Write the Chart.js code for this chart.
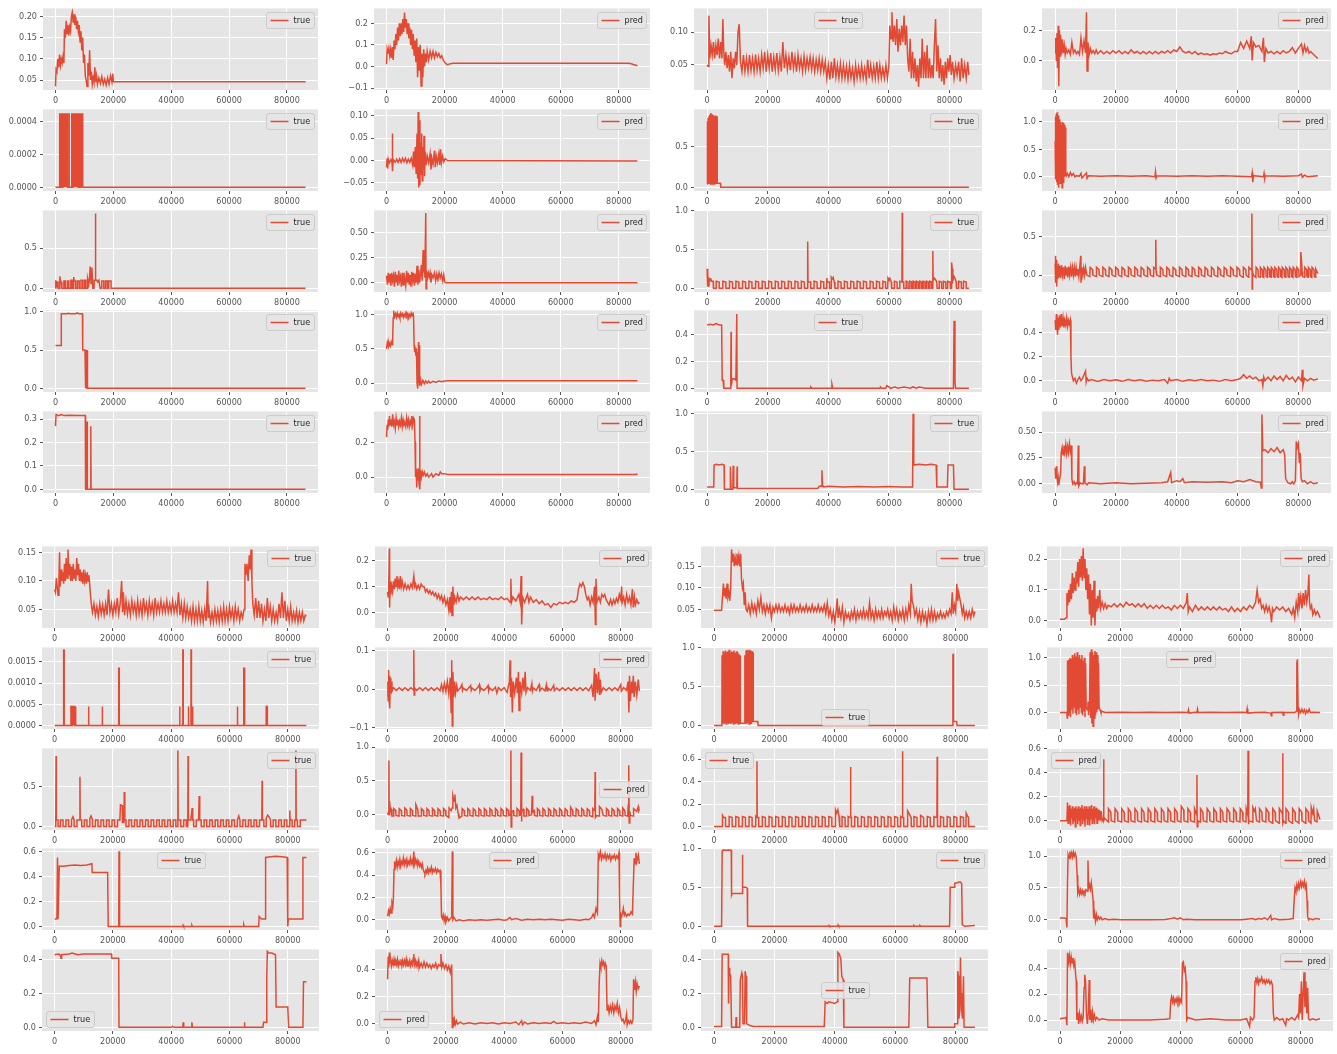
<!DOCTYPE html>
<html>
<head>
<meta charset="utf-8">
<title>true / pred</title>
<script src="https://cdn.jsdelivr.net/npm/chart.js@4.4.1/dist/chart.umd.min.js"></script>
<style>
  html, body { margin: 0; padding: 0; background: #ffffff; }
  #board { position: relative; width: 1337px; height: 1054px; overflow: hidden; }
</style>
</head>
<body>
<div id="board"></div>
<script>
// x values in the series are in thousands of samples
const X_SCALE = 1000;
const X_TICKS = [0, 20000, 40000, 60000, 80000];

// ---- block 1 ----
const s01_true = [[0,.035],[0.2,.075],[0.5,.07],[0.8,.10],[1.1,.08],[1.4,.11],[1.7,.085],[2.0,.10],[2.3,.09],[2.6,.105],[2.9,.09],[3.1,.17],[3.4,.15],[3.7,.19],[4.0,.16],[4.3,.18],[4.6,.155],[4.9,.175],[5.2,.165],[5.5,.2],[5.8,.21],[6.1,.185],[6.4,.205],[6.7,.18],[7.0,.2],[7.3,.17],[7.6,.19],[7.9,.165],[8.2,.18],[8.5,.14],[8.8,.165],[9.1,.12],[9.4,.15],[9.7,.09],[10.0,.11],[10.3,.06],[10.6,.05],[10.9,.035],[11.2,.09],[11.5,.06],[11.8,.12],[12.1,.05],[12.4,.07],[12.7,.04],[13.0,.055],[13.3,.045],[13.6,.08],[13.9,.045],[14.2,.06],[14.5,.04],[15,.055],[15.5,.042],[16,.058],[16.5,.04],[17,.052],[17.5,.038],[18,.055],[18.5,.04],[19,.06],[19.5,.045],[19.8,.065],[20,.046],[86.4,.046]];
const s02_pred = [[0,.01],[0.2,.08],[0.5,.06],[0.8,.085],[1.1,.05],[1.4,.08],[1.7,.04],[2.0,.09],[2.3,.03],[2.6,.12],[2.9,.08],[3.2,.15],[3.5,.1],[3.8,.18],[4.1,.12],[4.4,.2],[4.7,.14],[5.0,.2],[5.3,.15],[5.6,.22],[5.9,.16],[6.2,.25],[6.5,.18],[6.8,.22],[7.1,.15],[7.4,.2],[7.7,.13],[8.0,.18],[8.3,.1],[8.6,.17],[8.9,.08],[9.2,.15],[9.5,.05],[9.8,.12],[10.1,.02],[10.4,.13],[10.7,-.05],[11.0,.09],[11.3,-.02],[11.6,.1],[11.9,-.09],[12.2,.06],[12.5,-.05],[12.8,.08],[13.1,.0],[13.4,.06],[13.7,.02],[14,.07],[14.5,.03],[15,.07],[15.5,.04],[16,.07],[16.5,.04],[17,.065],[17.5,.045],[18,.06],[18.5,.04],[19,.05],[19.5,.03],[20,.02],[20.5,.012],[21,.008],[22,.013],[23,.015],[83,.015],[84,.014],[85,.009],[86.4,.003]];
const s03_true = [[0,.05],[0.3,.048],[0.6,.125],[0.9,.06],[1.3,.08],[1.7,.065],[2.1,.085],[2.5,.06],[2.9,.08],[3.3,.065],[3.7,.09],[4.1,.06],[4.5,.085],[4.9,.06],[5.2,.12],[5.5,.07],[5.8,.05],[6.2,.07],[6.6,.045],[7.0,.065],[7.4,.04],[7.8,.07],[8.2,.03],[8.6,.06],[9.0,.045],[9.4,.07],[9.8,.05],[10.2,.1],[10.6,.112],[11,.055],[11.5,.04],[12,.065],[12.5,.04],[13,.06],[13.5,.04],[14,.065],[14.5,.042],[15,.06],[15.5,.04],[16,.066],[16.5,.042],[17,.06],[17.5,.04],[18,.065],[18.5,.045],[19,.07],[19.5,.04],[20,.065],[20.5,.045],[21,.068],[21.5,.04],[22,.062],[22.5,.043],[23,.068],[23.5,.042],[24,.062],[24.5,.04],[25,.085],[25.5,.045],[26,.065],[26.5,.043],[27,.062],[27.5,.042],[28,.07],[28.5,.045],[29,.062],[29.5,.04],[30,.065],[30.5,.045],[31,.06],[31.5,.04],[32,.063],[32.5,.042],[33,.06],[33.5,.045],[34,.062],[34.5,.043],[35,.06],[35.5,.04],[36,.058],[36.5,.042],[37,.06],[37.5,.04],[38,.058],[38.5,.04],[39,.055],[39.5,.03],[40,.05],[40.5,.028],[41,.055],[41.5,.03],[42,.06],[42.5,.032],[43,.05],[43.5,.03],[44,.052],[44.5,.03],[45,.05],[45.5,.03],[46,.048],[46.5,.028],[47,.05],[47.5,.03],[48,.045],[48.5,.025],[49,.05],[49.5,.03],[50,.047],[50.5,.03],[51,.05],[51.5,.03],[52,.045],[52.5,.028],[53,.058],[53.5,.03],[54,.05],[54.5,.03],[55,.048],[55.5,.03],[56,.055],[56.5,.03],[57,.05],[57.5,.03],[58,.045],[58.5,.03],[59,.05],[59.5,.03],[60,.05],[60.3,.11],[60.7,.09],[61,.13],[61.4,.085],[61.8,.11],[62.2,.08],[62.6,.12],[63,.07],[63.4,.105],[63.8,.08],[64.2,.11],[64.6,.085],[65,.125],[65.4,.08],[65.8,.11],[66.2,.06],[66.6,.04],[67,.09],[67.4,.03],[67.8,.07],[68.2,.03],[68.6,.06],[69,.025],[69.4,.05],[69.8,.017],[70.2,.06],[70.6,.03],[71,.09],[71.4,.03],[71.8,.07],[72.2,.03],[72.6,.08],[73,.03],[73.4,.06],[73.8,.03],[74.2,.05],[74.6,.03],[75,.08],[75.4,.12],[75.8,.04],[76.2,.08],[76.6,.03],[77,.06],[77.4,.025],[77.8,.05],[78.2,.02],[78.6,.055],[79,.03],[79.4,.06],[79.8,.04],[80.2,.065],[80.6,.035],[81,.055],[81.5,.03],[82,.05],[82.5,.035],[83,.055],[83.5,.025],[84,.06],[84.5,.03],[85,.05],[85.5,.03],[86,.055],[86.4,.035]];
const s04_pred = [[0,.05],[0.2,.15],[0.4,.0],[0.6,.18],[0.8,-.05],[1.0,.23],[1.2,-.17],[1.4,.2],[1.6,.03],[1.8,.17],[2.1,.04],[2.4,.14],[2.7,.05],[3.0,.1],[3.3,.04],[3.6,.08],[4,.05],[4.5,.07],[5,.04],[5.5,.12],[6,.05],[6.5,.07],[7,.045],[7.5,.06],[8,.04],[8.5,.15],[9,.06],[9.5,.13],[10,.05],[10.3,.32],[10.5,-.07],[10.8,.12],[11.2,.04],[11.6,.08],[12,.05],[12.5,.065],[13,.045],[13.5,.07],[14,.045],[15,.065],[16,.045],[17,.06],[18,.045],[19,.065],[20,.05],[21,.065],[22,.045],[23,.06],[24,.045],[25,.07],[26,.05],[27,.06],[28,.045],[29,.06],[30,.045],[31,.06],[32,.045],[33,.06],[34,.045],[35,.06],[36,.05],[37,.065],[38,.05],[39,.07],[40,.06],[41,.09],[42,.06],[43,.05],[44,.06],[45,.045],[46,.06],[47,.04],[48,.05],[49,.04],[50,.045],[51,.035],[52,.045],[53,.04],[54,.05],[55,.045],[56,.06],[57,.05],[58,.045],[59,.06],[60,.06],[61,.12],[62,.08],[63,.13],[64,.08],[64.5,.16],[64.8,.0],[65.2,.12],[66,.09],[67,.1],[68,.06],[68.5,.15],[68.8,-.01],[69.3,.08],[70,.05],[71,.06],[72,.045],[73,.06],[74,.045],[75,.065],[76,.05],[77,.06],[78,.085],[79,.05],[80,.08],[81,.11],[81.5,.05],[82,.1],[82.5,.06],[83,.085],[83.5,.05],[84,.06],[85,.04],[86,.02],[86.4,.015]];

const s05_true = [[0,0],[1.3,0],[1.35,4.5e-4],[1.55,0],[1.75,4.5e-4],[1.95,0],[2.15,4.5e-4],[2.35,0],[2.55,4.5e-4],[2.75,0],[2.95,4.5e-4],[3.15,0],[3.35,4.5e-4],[3.55,0],[3.75,4.5e-4],[3.95,0],[4.15,4.5e-4],[4.2,0],[4.7,0],[4.72,4.5e-4],[4.75,0],[5.6,0],[5.62,4.5e-4],[5.8,0],[6.0,4.5e-4],[6.2,0],[6.4,4.5e-4],[6.6,0],[6.8,4.5e-4],[7.0,0],[7.2,4.5e-4],[7.4,0],[7.6,4.5e-4],[7.8,0],[8.0,4.5e-4],[8.2,0],[8.4,4.5e-4],[8.6,0],[8.8,4.5e-4],[9.0,0],[9.2,4.5e-4],[9.4,0],[86.4,0]];
const s06_pred = [[0,-.015],[0.2,.005],[0.4,-.018],[0.6,.003],[1,-.005],[1.5,.002],[1.9,-.005],[2.0,.06],[2.1,-.024],[2.3,.002],[3,-.004],[3.5,.003],[4,-.004],[4.5,.004],[5,-.004],[5.5,.005],[6,-.003],[6.5,.005],[7,-.005],[7.5,.003],[8,-.004],[8.5,.005],[9,-.01],[9.3,.02],[9.6,-.015],[9.9,.03],[10.2,-.03],[10.5,.06],[10.7,-.04],[10.9,.108],[11.1,-.06],[11.3,.09],[11.5,-.055],[11.7,.04],[11.9,-.03],[12.1,.06],[12.3,-.045],[12.5,.03],[12.7,-.02],[12.9,.055],[13.1,-.035],[13.3,.02],[13.6,-.01],[14,.01],[14.5,-.005],[15,.015],[15.3,-.02],[15.6,.005],[16,-.008],[16.5,.022],[16.8,-.015],[17.1,.01],[17.5,-.005],[18,.015],[18.3,-.01],[18.6,.025],[18.9,-.005],[19.3,.01],[19.7,-.003],[20.2,.004],[21,.0],[86.4,-.001]];
const s07_true = [[0,.04],[0.05,.82],[0.2,.04],[0.35,.86],[0.5,.04],[0.65,.88],[0.8,.04],[0.95,.9],[1.1,.04],[1.25,.92],[1.4,.04],[1.55,.91],[1.7,.04],[1.85,.9],[2.0,.04],[2.15,.89],[2.3,.04],[2.45,.88],[2.6,.04],[2.75,.89],[2.9,.04],[3.05,.88],[3.2,.04],[3.3,.88],[3.35,.05],[4.4,.05],[4.5,0],[86.4,0]];
const s08_pred = [[0,.65],[0.1,1.1],[0.2,-.05],[0.35,1.15],[0.5,-.1],[0.65,1.18],[0.8,-.15],[0.95,1.12],[1.1,-.2],[1.25,1.1],[1.4,-.05],[1.55,1.05],[1.7,-.12],[1.85,1.0],[2.0,-.08],[2.15,.95],[2.3,-.2],[2.45,1.0],[2.6,-.1],[2.75,.98],[2.9,-.05],[3.05,.95],[3.2,.0],[3.35,.9],[3.5,.05],[3.7,.02],[4,.06],[4.5,.0],[5,.08],[5.5,.02],[6,.06],[6.5,.0],[7,.02],[8,.01],[8.5,.06],[8.8,-.02],[9.5,.02],[10.3,.07],[10.5,-.03],[11,.02],[15,.01],[20,.02],[25,.01],[30,.02],[32.8,.0],[33,.09],[33.2,-.02],[33.5,.02],[40,.01],[45,.02],[50,.01],[55,.02],[60,.01],[64.6,.0],[64.8,.07],[65,-.1],[65.2,.02],[68.5,.0],[68.7,.06],[68.9,-.03],[69.1,.02],[75,.01],[80,.02],[81,.05],[81.3,-.01],[82,.03],[83,.0],[86.4,.02]];

const s09_true = [[0,0],[0.1,.1],[0.3,.02],[0.5,.08],[0.9,.08],[0.9,0],[1.5,0],[1.5,.15],[1.7,.1],[2.0,.08],[2.2,0],[2.9,0],[2.9,.09],[3.4,.09],[3.4,0],[4.1,0],[4.1,.09],[4.6,.09],[4.6,0],[5.3,0],[5.3,.1],[5.8,.1],[5.8,0],[6.3,0],[6.3,.14],[6.5,.09],[7.0,.09],[7.0,0],[7.6,0],[7.6,.09],[8.2,.09],[8.2,0],[8.8,0],[8.8,.1],[9.4,.1],[9.4,0],[10,0],[10,.1],[10.5,.1],[10.5,0],[11.1,0],[11.1,.12],[11.5,.05],[11.7,.1],[12.0,.27],[12.3,.06],[12.6,.26],[12.9,.0],[13.3,0],[13.4,.1],[13.7,.1],[13.8,.93],[13.9,.1],[14.3,.1],[14.6,.08],[15,.1],[15.4,0],[16,0],[16,.09],[16.7,.09],[16.7,0],[17.3,0],[17.3,.09],[17.9,.09],[17.9,0],[18.4,0],[18.4,.09],[19.2,.09],[19.2,0],[86.4,0]];
const s10_pred = [[0,.07],[0.3,-.02],[0.6,.1],[0.9,.0],[1.2,.09],[1.5,-.03],[1.8,.1],[2.1,.02],[2.4,.07],[2.7,-.04],[3.0,.11],[3.3,.0],[3.6,.08],[3.9,-.03],[4.2,.12],[4.5,.02],[4.8,.06],[5.1,-.04],[5.4,.1],[5.7,-.02],[6.0,.1],[6.3,.03],[6.6,-.03],[6.9,.12],[7.2,.0],[7.5,.1],[7.8,-.02],[8.1,.08],[8.4,-.04],[8.7,.11],[9.0,.02],[9.3,.1],[9.6,-.03],[9.9,.09],[10.2,.0],[10.5,.17],[10.8,-.02],[11.1,.13],[11.4,.0],[11.7,.08],[12.0,.18],[12.3,.02],[12.6,.33],[12.8,.1],[13.0,.3],[13.2,.05],[13.5,.7],[13.6,-.06],[13.8,.12],[14.1,.05],[14.4,.1],[14.7,.06],[15,.1],[15.3,.0],[15.6,.08],[16,.05],[16.5,.1],[16.9,.02],[17.3,.09],[17.7,.03],[18.1,.1],[18.5,.05],[18.9,.09],[19.3,.02],[19.7,.08],[20,.01],[20.5,.0],[86.4,.0]];
const s11_true = [[0,.25],[0.2,.03],[0.6,.03],[0.7,.12],[1.0,.1],[1.2,.13],[1.4,.09],[2.0,.09],[2.1,0],[3.0,0],[3.0,.09],[4.0,.08],[4.0,0],[5.2,0],[5.2,.09],[6.2,.08],[6.2,0],[7.4,0],[7.4,.09],[8.4,.08],[8.4,0],[9.5,0],[9.5,.09],[10.5,.08],[10.5,0],[11.7,0],[11.7,.09],[12.7,.08],[12.7,0],[13.8,0],[13.8,.09],[14.8,.08],[14.8,0],[16.0,0],[16.0,.09],[17.0,.08],[17.0,0],[18.2,0],[18.2,.09],[19.2,.08],[19.2,0],[20.3,0],[20.3,.09],[21.3,.08],[21.3,0],[22.5,0],[22.5,.09],[23.5,.08],[23.5,0],[24.6,0],[24.6,.09],[25.6,.08],[25.6,0],[26.8,0],[26.8,.09],[27.8,.08],[27.8,0],[29.0,0],[29.0,.09],[30.0,.08],[30.0,0],[31.1,0],[31.1,.09],[32.1,.08],[32.1,0],[33.1,0],[33.2,.6],[33.3,.08],[34.2,.08],[34.2,0],[35.3,0],[35.3,.09],[36.3,.08],[36.3,0],[37.5,0],[37.5,.09],[38.5,.08],[38.5,0],[39.4,0],[39.5,.13],[39.7,.08],[40.4,.08],[40.4,0],[40.9,0],[41.0,.14],[41.3,.12],[41.6,.14],[42.0,.08],[42.2,0],[43.2,0],[43.2,.09],[44.2,.08],[44.2,0],[45.3,0],[45.3,.09],[46.3,.08],[46.3,0],[47.4,0],[47.4,.09],[48.4,.08],[48.4,0],[49.5,0],[49.5,.09],[50.5,.08],[50.5,0],[51.6,0],[51.6,.09],[52.6,.08],[52.6,0],[53.8,0],[53.8,.09],[54.8,.08],[54.8,0],[55.9,0],[55.9,.09],[56.9,.08],[56.9,0],[58.0,0],[58.0,.09],[58.9,.08],[58.9,0],[59.6,0],[59.7,.13],[60.0,.11],[60.3,.13],[60.8,.08],[60.9,0],[61.8,0],[61.8,.09],[62.7,.08],[62.7,0],[63.6,0],[63.6,.09],[64.3,.08],[64.4,.97],[64.5,.08],[64.9,.08],[64.9,0],[65.7,0],[65.7,.09],[66.3,.08],[66.3,0],[66.9,0],[66.9,.09],[67.5,.08],[67.5,0],[68.0,0],[68.0,.09],[68.6,.08],[68.6,0],[69.1,0],[69.1,.09],[69.7,.08],[69.7,0],[70.2,0],[70.2,.09],[70.8,.08],[70.8,0],[71.3,0],[71.3,.09],[71.9,.08],[71.9,0],[72.4,0],[72.4,.09],[73.0,.08],[73.0,0],[73.5,0],[73.5,.09],[74.1,.08],[74.1,0],[74.4,0],[74.5,.48],[74.6,.1],[75.0,.13],[75.4,.11],[75.8,.08],[75.9,0],[76.6,0],[76.6,.09],[77.4,.08],[77.4,0],[78.0,0],[78.0,.09],[78.8,.08],[78.8,0],[79.4,0],[79.4,.09],[80.2,.08],[80.3,0],[80.6,0],[80.7,.33],[80.9,.25],[81.1,.1],[81.5,.15],[81.9,.12],[82.2,.08],[82.3,0],[83.0,0],[83.0,.09],[83.9,.08],[83.9,0],[84.6,0],[84.6,.09],[85.5,.08],[85.5,0],[86.4,0]];
const s12_pred = [[0,.15],[0.1,.25],[0.2,-.1],[0.35,.2],[0.5,-.15],[0.7,.12],[0.9,-.05],[1.1,.15],[1.3,-.02],[1.5,.12],[1.8,-.04],[2.1,.13],[2.4,.0],[2.7,.1],[3.0,-.05],[3.3,.12],[3.6,.0],[3.9,.1],[4.2,-.03],[4.5,.11],[4.8,.0],[5.1,.1],[5.4,-.02],[5.7,.1],[6.0,.0],[6.3,.1],[6.6,-.02],[6.9,.1],[7.2,.0],[7.5,.08],[7.8,-.02],[8.1,.1],[8.4,.25],[8.5,-.1],[8.8,.1],[9.1,.0],[9.4,.09],[9.7,.0],[10.0,.1],[10.4,.0],[11.4,-.02],[11.5,.1],[12.3,.07],[12.4,0],[13.5,-.02],[13.6,.1],[14.4,.07],[14.5,0],[15.6,-.02],[15.7,.1],[16.5,.07],[16.6,0],[17.7,-.02],[17.8,.1],[18.6,.07],[18.7,0],[19.8,-.02],[19.9,.1],[20.7,.07],[20.8,0],[21.9,-.02],[22.0,.1],[22.8,.07],[22.9,0],[24.0,-.02],[24.1,.1],[24.9,.07],[25.0,0],[26.1,-.02],[26.2,.1],[27.0,.07],[27.1,0],[28.2,-.02],[28.3,.1],[29.1,.07],[29.2,0],[30.3,-.02],[30.4,.1],[31.2,.07],[31.3,0],[32.3,-.02],[32.4,.1],[33.0,.08],[33.1,.46],[33.2,.05],[33.4,0],[34.5,-.02],[34.6,.1],[35.4,.07],[35.5,0],[36.6,-.02],[36.7,.1],[37.5,.07],[37.6,0],[38.7,-.02],[38.8,.1],[39.6,.07],[39.7,0],[40.8,-.02],[40.9,.1],[41.7,.07],[41.8,0],[42.9,-.02],[43.0,.1],[43.8,.07],[43.9,0],[45.0,-.02],[45.1,.1],[45.9,.07],[46.0,0],[47.1,-.02],[47.2,.1],[48.0,.07],[48.1,0],[49.2,-.02],[49.3,.1],[50.1,.07],[50.2,0],[51.3,-.02],[51.4,.1],[52.2,.07],[52.3,0],[53.4,-.02],[53.5,.1],[54.3,.07],[54.4,0],[55.5,-.02],[55.6,.1],[56.4,.07],[56.5,0],[57.6,-.02],[57.7,.1],[58.5,.07],[58.6,0],[59.7,-.02],[59.8,.1],[60.6,.07],[60.7,0],[61.8,-.03],[61.9,.1],[62.7,.07],[62.8,0],[63.6,-.03],[63.7,.1],[64.5,.07],[64.7,.8],[64.8,-.18],[64.9,.05],[65.2,0],[66.0,-.03],[66.1,.1],[66.7,.07],[66.8,-.02],[67.4,-.03],[67.5,.1],[68.1,.07],[68.2,-.02],[68.6,-.03],[68.7,.1],[69.3,.07],[69.4,-.02],[69.8,-.03],[69.9,.1],[70.5,.07],[70.6,-.02],[71.0,-.03],[71.1,.1],[71.7,.07],[71.8,-.02],[72.2,-.03],[72.3,.1],[72.9,.07],[73.0,-.02],[73.4,-.03],[73.5,.1],[74.1,.07],[74.2,-.02],[74.6,-.03],[74.7,.1],[75.3,.07],[75.4,-.02],[75.8,-.03],[75.9,.1],[76.5,.07],[76.6,-.02],[77.0,-.03],[77.1,.1],[77.7,.07],[77.8,-.02],[78.2,-.03],[78.3,.1],[78.9,.07],[79.0,-.02],[79.4,-.03],[79.5,.1],[80.1,.07],[80.2,-.02],[80.7,.0],[80.8,.3],[81.0,.2],[81.2,.05],[81.4,-.02],[82.0,-.03],[82.1,.1],[82.7,.07],[82.8,-.02],[83.2,-.03],[83.3,.1],[83.9,.07],[84.0,-.02],[84.4,-.03],[84.5,.1],[85.1,.07],[85.2,-.02],[85.6,-.03],[85.7,.08],[86.4,.02]];

const s13_true = [[0,.56],[2.0,.56],[2.0,.975],[4,.975],[4.5,.98],[5,.975],[7,.975],[7.5,.985],[8,.975],[9.3,.975],[9.4,.5],[10.2,.5],[10.3,0],[10.4,.45],[10.5,0],[10.7,.5],[10.9,0],[11.0,.5],[11.1,0],[86.4,0]];
const s14_pred = [[0,.5],[0.2,.57],[0.4,.52],[0.6,.6],[0.8,.55],[1.0,.58],[1.3,.54],[1.6,.6],[1.9,.56],[2.1,.62],[2.3,.95],[2.5,1.03],[2.8,.97],[3.1,1.01],[3.4,.96],[3.7,1.02],[4,.97],[4.3,1.0],[4.6,.95],[4.9,1.02],[5.2,.98],[5.5,1.01],[5.8,.96],[6.1,1.0],[6.4,.97],[6.7,1.03],[7,.98],[7.3,1.01],[7.6,.95],[7.9,1.0],[8.2,.97],[8.5,1.02],[8.8,.98],[9.1,1.03],[9.3,.97],[9.5,.55],[9.7,.45],[9.9,.52],[10.1,.4],[10.3,.5],[10.5,.0],[10.7,.45],[10.8,-.08],[11.0,.6],[11.1,.0],[11.3,.55],[11.4,-.04],[11.7,.05],[12,-.02],[12.5,.04],[13,-.01],[13.5,.03],[14,.0],[14.5,.03],[15,.0],[16,.025],[17,.01],[18,.03],[19,.02],[20,.03],[21,.035],[86.4,.035]];
const s15_true = [[0,.47],[1,.475],[2,.47],[3,.48],[4,.47],[4.8,.47],[5,.06],[5.3,.06],[5.5,0],[7.8,0],[7.9,.42],[8.0,.02],[8.3,.07],[9.0,.07],[9.5,.06],[9.8,.55],[9.9,0],[34,0],[34.2,.01],[34.6,0],[41,0],[41.2,.03],[41.5,0],[57,0],[57.2,.01],[57.5,0],[59,0],[59.3,.02],[60,.01],[60.5,0],[62,.01],[63,0],[65,.01],[67,0],[68,.01],[69,0],[70,.01],[72,0],[81.3,0],[81.5,.5],[81.8,.05],[82,0],[86.4,0]];
const s16_pred = [[0,.5],[0.2,.42],[0.4,.55],[0.6,.45],[0.8,.38],[1.0,.52],[1.2,.42],[1.4,.54],[1.7,.44],[2.0,.55],[2.3,.45],[2.6,.52],[2.9,.44],[3.2,.5],[3.5,.46],[3.8,.52],[4.1,.45],[4.4,.5],[4.7,.47],[5.0,.5],[5.2,.2],[5.4,.06],[5.7,.03],[6,.0],[6.5,.02],[7,-.02],[7.5,.01],[8,.03],[8.5,.0],[9,.02],[9.5,.05],[10,.08],[10.2,-.01],[10.5,.02],[11,.0],[12,.01],[14,-.005],[16,.01],[18,.0],[20,.008],[22,-.005],[24,.01],[26,.0],[28,.008],[30,-.005],[32,.005],[34,.0],[36,.01],[37,-.02],[37.5,.02],[38,.0],[40,.01],[42,-.005],[44,.008],[46,.0],[48,.01],[50,.0],[52,.005],[54,-.005],[56,.01],[58,.0],[60,.01],[61,.02],[62,.05],[63,.02],[64,.04],[65,.015],[66,.03],[67,.0],[68,.01],[68.3,-.04],[68.6,.03],[69,.0],[70,.03],[71,.0],[72,.04],[73,.01],[74,.035],[75,.0],[76,.045],[77,.01],[78,.03],[79,-.01],[80,.03],[81,.0],[81.3,.09],[81.5,-.04],[82,.02],[83,.0],[84,.02],[85,.005],[86.4,.015]];

const s17_true = [[0,.27],[0.2,.32],[1,.315],[2,.32],[3,.315],[5,.316],[7,.315],[9,.315],[10.3,.315],[10.4,0],[10.8,0],[10.9,.29],[11.0,0],[12.1,0],[12.2,.27],[12.3,0],[86.4,0]];
const s18_pred = [[0,.23],[0.2,.3],[0.4,.27],[0.6,.33],[0.8,.29],[1.0,.35],[1.2,.3],[1.5,.33],[1.8,.29],[2.1,.36],[2.4,.3],[2.7,.32],[3.0,.28],[3.3,.34],[3.6,.3],[3.9,.33],[4.2,.29],[4.5,.32],[4.8,.3],[5.1,.34],[5.4,.29],[5.7,.33],[6.0,.3],[6.3,.31],[6.6,.29],[6.9,.34],[7.2,.3],[7.5,.33],[7.8,.29],[8.1,.32],[8.4,.3],[8.7,.35],[9.0,.3],[9.3,.34],[9.6,.33],[9.8,.2],[10.0,.0],[10.2,.05],[10.4,-.06],[10.6,.03],[10.8,-.02],[11.0,.05],[11.2,-.04],[11.4,.35],[11.5,-.07],[11.7,.04],[12,.0],[12.3,.03],[12.6,.01],[13,.03],[13.5,.005],[14,.02],[14.5,.0],[15,.01],[15.5,.02],[16,.0],[17,.02],[18,.01],[18.5,.03],[19,.02],[20,.02],[21,.015],[86,.015],[86.4,.02]];
const s19_true = [[0,.03],[2.2,.03],[2.3,.32],[3,.33],[4,.32],[5,.33],[5.6,.32],[5.7,.0],[7.6,.0],[7.7,.3],[7.9,.0],[8.5,.0],[8.6,.31],[8.8,.02],[9.8,.02],[9.9,.3],[10.0,.01],[11,.01],[36.5,.01],[37,.04],[37.7,.04],[37.9,.25],[38.1,.05],[38.5,.03],[40,.04],[45,.03],[50,.035],[55,.03],[60,.035],[64,.03],[67.8,.03],[68,1.0],[68.2,.32],[70,.33],[72,.32],[74,.33],[75.6,.32],[75.8,.03],[79.3,.03],[79.5,.32],[81.3,.32],[81.5,.0],[86.4,.0]];
const s20_pred = [[0,.15],[0.2,.05],[0.4,.17],[0.6,.08],[0.8,.02],[1.0,.06],[1.2,-.01],[1.5,.05],[1.8,.1],[2.0,.3],[2.3,.35],[2.6,.28],[2.9,.37],[3.2,.3],[3.5,.38],[3.8,.29],[4.1,.36],[4.4,.3],[4.7,.39],[5.0,.32],[5.3,.37],[5.5,.05],[5.8,.0],[6.2,.02],[6.6,-.01],[7.0,.01],[7.4,.0],[7.6,.37],[7.8,-.02],[8.2,.01],[8.8,.0],[9.3,.0],[9.6,.17],[9.8,.01],[10.5,-.01],[11,.01],[15,.0],[20,.01],[25,.0],[30,.005],[35,.01],[37,.02],[38,.11],[38.3,.01],[40,.03],[41,.02],[42,.05],[42.5,.01],[45,.02],[50,.015],[55,.02],[58,.01],[60,.03],[62,.02],[64,.04],[66,.02],[67.5,.015],[67.8,-.04],[68.0,.67],[68.3,.32],[69,.33],[70,.3],[71,.34],[72,.31],[73,.35],[74,.3],[75,.33],[75.5,.28],[75.8,.05],[76.5,.01],[77.5,0],[78,.02],[78.5,.0],[79,.03],[79.3,.41],[79.6,.35],[80,.39],[80.3,.2],[80.6,.3],[80.9,.05],[81.3,.02],[82,.03],[83,.0],[84,.02],[85,.0],[86.4,.01]];

// ---- block 2 ----
const s21_true = [[0,.085],[0.3,.08],[0.6,.105],[0.9,.09],[1.2,.075],[1.5,.1],[1.7,.15],[1.9,.09],[2.2,.12],[2.5,.1],[2.8,.115],[3.1,.095],[3.4,.13],[3.7,.1],[4.0,.14],[4.3,.105],[4.6,.155],[4.9,.11],[5.2,.13],[5.5,.1],[5.8,.125],[6.1,.1],[6.4,.13],[6.7,.105],[7.0,.12],[7.3,.1],[7.6,.14],[7.9,.11],[8.2,.13],[8.5,.1],[8.8,.12],[9.1,.1],[9.4,.115],[9.7,.095],[10,.12],[10.3,.1],[10.6,.11],[10.9,.095],[11.2,.115],[11.5,.1],[11.8,.11],[12.1,.09],[12.4,.07],[12.7,.055],[13,.045],[13.5,.06],[14,.04],[14.5,.055],[15,.038],[15.5,.06],[16,.042],[16.5,.058],[17,.04],[17.5,.06],[18,.04],[18.5,.085],[19,.045],[19.5,.06],[20,.04],[20.5,.06],[21,.045],[21.5,.07],[22,.042],[22.5,.06],[23,.1],[23.3,.045],[23.6,.08],[24,.04],[24.5,.065],[25,.042],[25.5,.06],[26,.04],[26.5,.065],[27,.045],[27.5,.06],[28,.04],[28.5,.065],[29,.042],[29.5,.06],[30,.04],[30.5,.07],[31,.045],[31.5,.06],[32,.04],[32.5,.065],[33,.045],[33.5,.06],[34,.04],[34.5,.07],[35,.045],[35.5,.06],[36,.045],[36.5,.065],[37,.045],[37.5,.06],[38,.045],[38.5,.065],[39,.045],[39.5,.06],[40,.045],[40.5,.065],[41,.045],[41.5,.06],[42,.045],[42.5,.08],[43,.04],[43.5,.06],[44,.035],[44.5,.06],[45,.035],[45.5,.055],[46,.035],[46.5,.05],[47,.03],[47.5,.055],[48,.03],[48.5,.05],[49,.03],[49.5,.055],[50,.03],[50.5,.048],[51,.028],[51.5,.05],[52,.03],[52.5,.1],[52.7,.035],[53,.05],[53.5,.028],[54,.045],[54.5,.028],[55,.05],[55.5,.03],[56,.048],[56.5,.028],[57,.05],[57.5,.03],[58,.055],[58.5,.03],[59,.05],[59.5,.03],[60,.055],[60.5,.035],[61,.05],[61.5,.03],[62,.055],[62.5,.035],[63,.05],[63.5,.03],[64,.045],[64.5,.035],[65,.05],[65.3,.13],[65.6,.11],[66,.13],[66.4,.1],[66.8,.145],[67.1,.12],[67.4,.155],[67.7,.1],[68,.06],[68.5,.04],[69,.07],[69.5,.035],[70,.065],[70.5,.035],[71,.06],[71.5,.03],[72,.05],[72.5,.03],[73,.07],[73.5,.035],[74,.055],[74.5,.03],[75,.05],[75.5,.03],[76,.045],[76.5,.03],[77,.06],[77.5,.035],[78,.08],[78.5,.035],[79,.065],[79.5,.03],[80,.05],[80.5,.03],[81,.055],[81.5,.03],[82,.045],[82.5,.03],[83,.048],[83.5,.028],[84,.045],[84.5,.03],[85,.045],[85.5,.03],[86,.04],[86.4,.038]];
const s22_pred = [[0,.08],[0.2,.06],[0.4,.1],[0.6,.245],[0.7,.02],[0.9,.12],[1.1,.07],[1.4,.1],[1.7,.08],[2.0,.12],[2.3,.09],[2.6,.13],[2.9,.1],[3.2,.14],[3.5,.1],[3.8,.12],[4.1,.09],[4.4,.14],[4.7,.1],[5.0,.12],[5.5,.09],[6,.11],[6.5,.09],[7,.105],[7.5,.09],[8,.11],[8.5,.095],[9,.14],[9.3,.1],[9.6,.11],[10,.09],[10.5,.105],[11,.09],[11.5,.11],[12,.1],[12.5,.1],[13,.08],[13.5,.09],[14,.075],[14.5,.085],[15,.07],[15.5,.08],[16,.065],[16.5,.075],[17,.055],[17.5,.07],[18,.05],[18.5,.065],[19,.04],[19.5,.06],[20,.03],[20.5,.05],[21,.01],[21.3,.06],[21.6,.0],[21.9,.08],[22.1,-.01],[22.4,.1],[22.7,.03],[23,.06],[23.5,.04],[24,.07],[24.5,.045],[25,.06],[26,.05],[27,.06],[28,.05],[29,.06],[30,.05],[31,.06],[32,.05],[33,.055],[34,.05],[35,.06],[36,.05],[37,.055],[38,.05],[39,.06],[40,.05],[41,.055],[42,.04],[42.3,.13],[42.5,.04],[43,.06],[44,.045],[45,.07],[45.5,.04],[45.8,.14],[46.0,-.045],[46.3,.06],[47,.04],[48,.07],[48.5,.04],[49,.06],[50,.04],[51,.05],[52,.035],[53,.045],[54,.03],[55,.035],[56,.02],[57,.035],[58,.03],[59,.04],[60,.035],[61,.04],[62,.035],[63,.045],[64,.04],[65,.05],[65.5,.09],[66,.11],[66.5,.1],[67,.115],[67.5,.1],[68,.07],[68.5,.05],[69,.06],[69.5,.03],[70,.06],[70.5,.04],[71,.1],[71.3,-.045],[71.5,.13],[71.8,.04],[72.5,.06],[73,.04],[73.5,.07],[74,.06],[74.5,.07],[75,.05],[75.5,.04],[76,.03],[76.5,.05],[77,.03],[77.5,.05],[78,.035],[78.5,.055],[79,.04],[79.5,.07],[80,.05],[80.3,.1],[80.5,.04],[81,.06],[81.5,.03],[82,.07],[82.5,.04],[83,.06],[83.5,.03],[84,.09],[84.3,.02],[84.7,.06],[85,.03],[85.5,.05],[86,.035],[86.4,.04]];
const s23_true = [[0,.048],[2.5,.048],[2.8,.08],[3.1,.11],[3.4,.08],[3.7,.1],[4.0,.075],[4.3,.11],[4.6,.08],[4.9,.09],[5.2,.07],[5.5,.1],[5.8,.19],[6.1,.16],[6.4,.18],[6.7,.15],[7.0,.17],[7.3,.155],[7.6,.18],[7.9,.16],[8.2,.175],[8.5,.15],[8.8,.18],[9.1,.12],[9.4,.1],[9.7,.11],[10,.06],[10.3,.09],[10.6,.05],[11,.045],[11.5,.06],[12,.04],[12.5,.065],[13,.045],[13.5,.06],[14,.04],[14.5,.07],[15,.05],[15.5,.078],[16,.045],[16.5,.06],[17,.04],[17.5,.06],[18,.045],[18.5,.06],[19,.03],[19.5,.055],[20,.045],[20.5,.06],[21,.045],[21.5,.06],[22,.045],[22.5,.055],[23,.045],[23.5,.06],[24,.045],[24.5,.055],[25,.04],[25.5,.06],[26,.045],[26.5,.06],[27,.045],[27.5,.055],[28,.045],[28.5,.06],[29,.045],[29.5,.055],[30,.045],[30.5,.06],[31,.045],[31.5,.055],[32,.045],[32.5,.06],[33,.045],[33.5,.055],[34,.045],[34.5,.06],[35,.045],[35.5,.055],[36,.045],[36.5,.06],[37,.04],[37.5,.065],[38,.035],[38.5,.05],[39,.025],[39.5,.045],[40,.02],[40.5,.05],[40.8,.075],[41.1,.03],[41.5,.05],[42,.03],[42.5,.055],[43,.02],[43.5,.045],[44,.03],[44.5,.04],[45,.025],[45.5,.045],[46,.03],[46.5,.05],[47,.025],[47.5,.045],[48,.03],[48.5,.045],[49,.03],[49.5,.05],[50,.03],[50.5,.045],[51,.03],[51.5,.065],[52,.03],[52.5,.045],[53,.025],[53.5,.05],[54,.03],[54.5,.045],[55,.03],[55.5,.05],[56,.03],[56.5,.045],[57,.035],[57.5,.05],[58,.03],[58.5,.045],[59,.025],[59.5,.055],[60,.03],[60.5,.05],[61,.025],[61.5,.045],[62,.03],[62.5,.05],[63,.025],[63.5,.05],[64,.03],[64.5,.06],[65,.04],[65.3,.11],[65.6,.07],[66,.06],[66.5,.035],[67,.05],[67.5,.025],[68,.045],[68.5,.02],[69,.045],[69.5,.025],[70,.04],[70.5,.015],[71,.045],[71.5,.025],[72,.05],[72.5,.025],[73,.045],[73.5,.025],[74,.04],[74.5,.03],[75,.045],[75.5,.03],[76,.04],[76.5,.03],[77,.045],[77.5,.035],[78,.05],[78.5,.04],[78.9,.09],[79.2,.04],[79.6,.06],[80,.045],[80.4,.11],[80.7,.07],[81,.09],[81.4,.075],[81.8,.06],[82.2,.04],[82.6,.055],[83,.03],[83.5,.045],[84,.03],[84.5,.045],[85,.03],[85.5,.05],[86,.035],[86.4,.045]];
const s24_pred = [[0,.005],[1.5,.005],[2.0,.01],[2.3,.09],[2.6,.05],[2.9,.1],[3.2,.06],[3.5,.12],[3.8,.07],[4.1,.155],[4.4,.09],[4.7,.14],[5.0,.1],[5.3,.16],[5.6,.12],[5.9,.19],[6.2,.11],[6.5,.2],[6.8,.14],[7.1,.21],[7.4,.13],[7.7,.235],[8.0,.14],[8.3,.2],[8.6,.1],[8.9,.17],[9.2,.07],[9.5,.15],[9.8,.02],[10.1,.12],[10.4,-.015],[10.7,.1],[11.0,.01],[11.3,.13],[11.6,-.015],[11.9,.07],[12.2,.03],[12.5,.08],[12.8,.04],[13.2,.1],[13.5,.04],[14,.06],[14.5,.04],[15,.055],[15.5,.04],[16,.05],[17,.045],[18,.055],[19,.045],[20,.055],[21,.045],[22,.06],[23,.05],[24,.055],[25,.045],[26,.055],[27,.045],[28,.055],[29,.04],[30,.05],[31,.04],[32,.05],[33,.04],[34,.05],[35,.04],[36,.045],[37,.035],[38,.05],[39,.04],[40,.05],[41,.04],[42,.06],[42.3,.09],[42.6,.03],[43,.045],[44,.03],[45,.05],[46,.035],[47,.045],[48,.035],[49,.045],[50,.035],[51,.045],[52,.035],[53,.045],[54,.035],[55,.04],[56,.03],[57,.045],[58,.03],[59,.04],[60,.03],[61,.045],[62,.035],[63,.05],[64,.04],[65,.06],[65.5,.1],[66,.06],[66.5,.07],[67,.04],[67.5,.05],[68,.03],[68.5,.05],[69,.03],[69.5,.045],[70,.02],[70.3,-.005],[70.6,.04],[71,.03],[72,.045],[73,.035],[74,.045],[75,.03],[76,.04],[77,.02],[77.5,.04],[78,.01],[78.5,.06],[79,.03],[79.3,.09],[79.6,.05],[80,.08],[80.4,.04],[80.8,.09],[81.2,.05],[81.6,.1],[82,.06],[82.4,.09],[82.7,.15],[82.9,.06],[83.2,.04],[83.6,.05],[84,.02],[84.5,.035],[85,.02],[85.5,.03],[86,.02],[86.4,.01]];

const s25_true = [[0,0],[3.0,0],[3.0,4.5e-4],[3.1,0],[3.15,0],[3.15,1.78e-3],[3.3,1.78e-3],[3.3,0],[5.6,0],[5.6,4.5e-4],[5.8,4.5e-4],[5.8,0],[6.1,0],[6.1,4.5e-4],[6.4,4.5e-4],[6.4,0],[6.6,0],[6.6,4.5e-4],[6.9,4.5e-4],[6.9,0],[7.1,0],[7.1,4.5e-4],[7.3,4.5e-4],[7.3,0],[11.6,0],[11.6,4.5e-4],[11.75,4.5e-4],[11.75,0],[16.3,0],[16.3,4.5e-4],[16.45,4.5e-4],[16.45,0],[22.0,0],[22.0,1.35e-3],[22.2,1.35e-3],[22.2,0],[42.9,0],[42.9,4.5e-4],[43.0,4.5e-4],[43.0,0],[44.0,0],[44.0,1.78e-3],[44.15,1.78e-3],[44.15,0],[45.9,0],[45.9,4.5e-4],[46.0,4.5e-4],[46.0,0],[46.8,0],[46.8,1.78e-3],[46.95,1.78e-3],[46.95,0],[47.3,0],[47.3,4.5e-4],[47.45,4.5e-4],[47.45,0],[62.7,0],[62.7,4.5e-4],[62.8,4.5e-4],[62.8,0],[64.9,0],[64.9,1.35e-3],[65.2,1.35e-3],[65.2,0],[72.6,0],[72.6,4.5e-4],[73.0,4.5e-4],[73.0,0],[86.4,0]];
const s26_pred = [[0,-.02],[0.1,.02],[0.2,-.03],[0.35,.05],[0.5,-.02],[0.65,.035],[0.8,-.05],[0.95,.03],[1.1,-.01],[1.3,.02],[1.5,-.005],[2,.004],[3,-.003],[4,.004],[5,-.003],[6,.004],[7,-.003],[8,.004],[8.9,-.002],[9.0,.102],[9.1,-.015],[9.3,.003],[10,-.003],[11,.004],[12,-.003],[13,.004],[14,-.003],[15,.004],[16,-.003],[17,.004],[18,-.004],[18.5,.012],[19,-.005],[19.5,.015],[20,-.006],[20.5,.02],[21,-.012],[21.5,.03],[21.8,-.06],[22.0,.075],[22.2,-.095],[22.4,.045],[22.7,-.02],[23,.02],[23.3,-.01],[23.7,.01],[24,-.004],[25,.004],[25.5,.012],[25.7,-.003],[26,.003],[27,-.003],[28,.005],[28.5,.01],[28.7,-.003],[29,.003],[30,-.003],[31,.005],[31.5,.012],[31.7,-.004],[32,.003],[33,-.003],[34,.004],[34.5,.01],[34.7,-.004],[35,.003],[36,-.003],[37,.005],[37.5,-.01],[38,.004],[39,-.003],[40,.004],[41,-.008],[41.8,.02],[42.0,.075],[42.2,-.02],[42.5,.03],[42.8,-.06],[43.1,.02],[43.6,-.01],[44.2,.03],[44.5,-.01],[44.9,.045],[45.1,-.055],[45.4,.02],[46,-.01],[46.4,.03],[46.8,-.005],[47.2,.045],[47.5,-.008],[48,.004],[49,-.003],[49.5,.015],[49.7,-.005],[50,.003],[51,-.003],[52,.012],[52.2,-.004],[53,.003],[54,-.004],[54.5,.012],[54.7,-.004],[55,.003],[56,-.003],[57,.01],[57.2,-.004],[58,.003],[59,-.003],[60,.004],[61,-.003],[62,.004],[63,-.003],[64,.004],[65,-.003],[66,.004],[67,-.003],[68,.004],[69,-.004],[70,.01],[70.5,-.02],[71,.055],[71.2,-.03],[71.6,.04],[72,-.01],[72.4,.045],[72.7,-.015],[73,.025],[73.3,-.008],[74,.004],[75,-.003],[76,.004],[77,-.003],[78,.004],[79,-.003],[80,.012],[80.2,-.005],[81,.004],[82,-.003],[82.5,.02],[82.8,-.06],[83,.035],[83.3,-.03],[83.7,.02],[84,-.01],[84.3,.035],[84.6,-.02],[85,.02],[85.5,-.015],[86,.025],[86.4,-.005]];
const s27_true = [[0,0],[2.6,0],[2.65,.9],[2.8,.03],[3.0,.95],[3.2,.02],[3.4,.93],[3.6,.03],[3.8,.96],[4.0,.02],[4.2,.94],[4.4,.04],[4.6,.95],[4.8,.02],[5.0,.97],[5.2,.03],[5.4,.93],[5.6,.02],[5.8,.95],[6.0,.04],[6.2,.94],[6.4,.02],[6.6,.96],[6.8,.03],[7.0,.93],[7.2,.02],[7.4,.95],[7.6,.03],[7.8,.94],[8.0,.02],[8.2,.92],[8.4,.03],[8.6,.9],[8.7,.03],[10.1,.03],[10.2,.9],[10.4,.03],[10.6,.96],[10.8,.02],[11.0,.97],[11.2,.03],[11.4,.95],[11.6,.02],[11.8,.97],[12.0,.03],[12.2,.96],[12.4,.02],[12.6,.95],[12.8,.04],[12.9,.93],[13.0,.05],[14.5,.05],[14.6,0],[79.0,0],[79.1,.9],[79.2,.92],[79.3,.05],[80.3,.05],[80.5,0],[86.4,0]];
const s28_pred = [[0,0],[2.3,0],[2.4,-.1],[2.5,.95],[2.7,-.05],[2.9,.96],[3.1,.0],[3.3,1.0],[3.5,-.08],[3.7,.98],[3.9,.05],[4.1,1.05],[4.3,-.02],[4.5,1.0],[4.7,.1],[4.9,1.08],[5.1,.0],[5.3,1.02],[5.5,-.05],[5.7,1.1],[5.9,.05],[6.1,1.0],[6.3,-.03],[6.5,1.05],[6.7,.1],[6.9,.98],[7.1,.0],[7.3,1.05],[7.5,-.05],[7.7,.95],[7.9,.02],[8.1,1.0],[8.3,-.08],[8.5,.9],[8.7,.1],[9.0,.05],[9.3,.2],[9.5,-.05],[9.8,.15],[10.0,1.1],[10.2,-.1],[10.4,1.15],[10.6,-.2],[10.8,1.1],[11.0,-.25],[11.2,1.05],[11.4,-.1],[11.6,1.12],[11.8,-.05],[12.0,1.1],[12.2,.0],[12.4,1.05],[12.6,.05],[12.8,.9],[13.0,.1],[13.3,.05],[13.6,.0],[14,.02],[15,.0],[20,.005],[25,.0],[30,.005],[35,.0],[40,.005],[42.5,.0],[42.7,.05],[42.9,-.01],[45,.005],[45.5,.0],[45.7,.06],[45.9,.0],[50,.005],[55,.0],[60,.005],[62,.0],[62.2,.07],[62.4,-.01],[65,.0],[68,.005],[70,-.01],[70.2,-.06],[70.4,.0],[74,.005],[74.2,-.05],[74.4,0],[78,.0],[78.5,.02],[78.7,.9],[78.9,.97],[79.1,.1],[79.3,-.03],[79.6,.05],[80,.0],[80.4,.06],[80.8,.0],[81.2,.05],[81.6,-.02],[82,.04],[82.4,.0],[82.8,.06],[83.2,.0],[84,.005],[86.4,.0]];

const s29_true = [[0,0],[0.4,0],[0.5,.88],[0.6,.08],[1.2,.08],[1.2,0],[2.0,0],[2.0,.08],[2.9,.08],[2.9,0],[3.9,0],[3.9,.08],[4.8,.08],[4.8,0],[5.8,0],[5.8,.08],[6.3,.12],[6.7,.08],[6.7,0],[7.7,0],[7.7,.08],[8.6,.08],[8.7,.62],[8.8,.08],[9.3,.08],[9.3,0],[10.2,0],[10.2,.08],[11.1,.08],[11.1,0],[12.1,0],[12.1,.1],[12.5,.13],[13.0,.08],[13.0,0],[14.0,0],[14.0,.08],[14.9,.08],[14.9,0],[15.9,0],[15.9,.08],[16.8,.08],[16.8,0],[17.8,0],[17.8,.08],[18.7,.08],[18.7,0],[19.7,0],[19.7,.08],[20.6,.08],[20.6,0],[21.6,0],[21.6,.08],[22.4,.08],[22.6,.27],[23.2,.26],[23.3,.05],[23.8,.05],[23.9,.43],[24.1,.08],[24.5,.08],[24.5,0],[25.5,0],[25.5,.08],[26.4,.08],[26.4,0],[27.4,0],[27.4,.08],[28.3,.08],[28.3,0],[29.3,0],[29.3,.08],[30.2,.08],[30.2,0],[31.2,0],[31.2,.08],[32.1,.08],[32.1,0],[33.1,0],[33.1,.08],[34.0,.08],[34.0,0],[35.0,0],[35.0,.08],[35.9,.08],[35.9,0],[36.9,0],[36.9,.08],[37.8,.08],[37.8,0],[38.8,0],[38.8,.08],[39.7,.08],[39.7,0],[40.7,0],[40.7,.08],[41.6,.08],[41.6,0],[42.2,0],[42.3,.95],[42.4,.08],[43.3,.08],[43.3,0],[44.3,0],[44.3,.08],[45.2,.08],[45.2,0],[45.7,0],[45.8,.88],[45.9,.08],[46.6,.08],[46.8,.1],[47.2,.23],[47.4,.08],[47.7,.08],[47.7,0],[48.6,0],[48.6,.08],[49.4,.08],[49.6,.38],[49.8,.08],[50.3,.08],[50.3,0],[51.3,0],[51.3,.08],[52.2,.08],[52.2,0],[53.2,0],[53.2,.08],[54.1,.08],[54.1,0],[55.1,0],[55.1,.08],[56.0,.08],[56.0,0],[57.0,0],[57.0,.08],[57.9,.08],[57.9,0],[58.9,0],[58.9,.08],[59.8,.08],[59.8,0],[60.8,0],[60.8,.08],[61.7,.08],[61.7,0],[62.7,0],[62.7,.08],[63.2,.13],[63.6,.08],[63.6,0],[64.6,0],[64.6,.08],[65.5,.08],[65.5,0],[66.5,0],[66.5,.08],[67.4,.08],[67.4,0],[68.4,0],[68.4,.08],[69.3,.08],[69.3,0],[70.3,0],[70.3,.08],[71.1,.08],[71.2,.57],[71.3,.08],[71.8,.08],[71.8,0],[72.6,0],[72.6,.1],[73.1,.14],[73.6,.12],[74.1,.08],[74.1,0],[75.0,0],[75.0,.08],[75.9,.08],[75.9,0],[76.9,0],[76.9,.08],[77.8,.08],[77.8,0],[78.8,0],[78.8,.08],[79.7,.08],[79.7,0],[80.6,0],[80.7,.2],[80.8,.08],[81.5,.08],[81.5,0],[82.4,0],[82.4,.08],[82.7,.08],[82.8,.95],[82.9,.08],[83.3,.08],[83.3,0],[84.3,0],[84.3,.08],[86.4,.08]];
const s30_pred = [[0,0],[0.3,.04],[0.45,.8],[0.55,0],[0.7,.2],[0.9,.05],[1.2,.08],[1.5,-.02],[2.0,-.02],[2.1,.09],[2.8,.06],[2.9,-.01],[3.9,-.02],[4.0,.09],[4.7,.06],[4.8,-.01],[5.8,-.02],[5.9,.1],[6.6,.07],[6.7,-.01],[7.7,-.02],[7.8,.09],[8.5,.06],[8.6,-.01],[9.6,-.02],[9.7,.15],[10.4,.07],[10.5,-.02],[11.5,-.02],[11.6,.09],[12.3,.06],[12.4,-.01],[13.4,-.02],[13.5,.09],[14.2,.06],[14.3,-.01],[15.3,-.02],[15.4,.09],[16.1,.06],[16.2,-.01],[17.2,-.02],[17.3,.09],[18.0,.06],[18.1,-.01],[19.1,-.02],[19.2,.09],[19.9,.06],[20.0,-.01],[21.0,-.04],[21.1,.1],[21.8,.06],[22.1,.1],[22.4,.28],[22.8,.2],[23.1,.3],[23.4,.1],[23.8,.14],[24.2,.02],[24.5,-.05],[25.5,-.02],[25.6,.09],[26.3,.06],[26.4,-.01],[27.4,-.02],[27.5,.09],[28.2,.06],[28.3,-.01],[29.3,-.02],[29.4,.09],[30.1,.06],[30.2,-.01],[31.2,-.02],[31.3,.09],[32.0,.06],[32.1,-.01],[33.1,-.02],[33.2,.09],[33.9,.06],[34.0,-.01],[35.0,-.02],[35.1,.09],[35.8,.06],[35.9,-.01],[36.9,-.02],[37.0,.09],[37.7,.06],[37.8,-.01],[38.8,-.02],[38.9,.09],[39.6,.06],[39.7,-.01],[40.7,-.02],[40.8,.09],[41.5,.06],[41.6,-.01],[42.2,.0],[42.3,.95],[42.4,-.18],[42.6,.05],[43.2,.06],[43.3,-.01],[44.3,-.02],[44.4,.09],[45.1,.06],[45.2,-.01],[45.7,.0],[45.8,.92],[45.9,-.1],[46.1,.06],[46.6,.08],[46.8,-.02],[47.6,-.02],[47.7,.09],[48.4,.06],[48.5,-.01],[49.4,.0],[49.6,.28],[49.8,.04],[50.3,.06],[50.4,-.01],[51.3,-.02],[51.4,.09],[52.1,.06],[52.2,-.01],[53.2,-.02],[53.3,.09],[54.0,.06],[54.1,-.01],[55.1,-.02],[55.2,.09],[55.9,.06],[56.0,-.01],[57.0,-.02],[57.1,.09],[57.8,.06],[57.9,-.01],[58.9,-.02],[59.0,.09],[59.7,.06],[59.8,-.01],[60.8,-.02],[60.9,.09],[61.6,.06],[61.7,-.01],[62.7,-.02],[62.8,.11],[63.5,.06],[63.6,-.01],[64.6,-.02],[64.7,.09],[65.4,.06],[65.5,-.01],[66.5,-.02],[66.6,.09],[67.3,.06],[67.4,-.01],[68.4,-.02],[68.5,.09],[69.2,.06],[69.3,-.01],[70.3,-.03],[70.4,.09],[71.1,.06],[71.2,.63],[71.3,-.04],[71.8,-.01],[72.6,-.02],[72.7,.12],[73.5,.08],[74.0,-.01],[75.0,-.02],[75.1,.09],[75.8,.06],[75.9,-.01],[76.9,-.02],[77.0,.09],[77.7,.06],[77.8,-.01],[78.8,-.02],[78.9,.09],[79.6,.06],[79.7,-.01],[80.6,-.02],[80.7,.1],[81.4,.06],[81.5,-.01],[82.4,-.02],[82.5,.09],[82.7,.05],[82.8,.73],[82.9,-.12],[83.1,.05],[83.3,-.01],[84.3,-.02],[84.4,.09],[85.2,.06],[85.5,.05],[86.0,.12],[86.2,.06],[86.4,.08]];
const s31_true = [[0,0],[2.8,0],[2.8,.1],[3.2,.08],[3.8,.08],[3.8,0],[5.0,0],[5.0,.09],[6.0,.08],[6.0,0],[7.2,0],[7.2,.09],[8.2,.08],[8.2,0],[9.4,0],[9.4,.09],[10.4,.08],[10.4,0],[11.6,0],[11.6,.09],[12.6,.08],[12.6,0],[13.8,0],[13.8,.09],[14.1,.08],[14.2,.58],[14.3,.08],[14.8,.08],[14.8,0],[16.0,0],[16.0,.09],[17.0,.08],[17.0,0],[18.2,0],[18.2,.09],[19.2,.08],[19.2,0],[20.4,0],[20.4,.09],[21.4,.08],[21.4,0],[22.6,0],[22.6,.09],[23.6,.08],[23.6,0],[24.8,0],[24.8,.09],[25.8,.08],[25.8,0],[27.0,0],[27.0,.09],[28.0,.08],[28.0,0],[29.2,0],[29.2,.09],[30.2,.08],[30.2,0],[31.4,0],[31.4,.09],[32.4,.08],[32.4,0],[33.6,0],[33.6,.09],[34.6,.08],[34.6,0],[35.8,0],[35.8,.09],[36.8,.08],[36.8,0],[38.0,0],[38.0,.09],[39.0,.08],[39.0,0],[40.1,0],[40.2,.15],[40.6,.12],[41.0,.15],[41.4,.09],[41.6,0],[42.4,0],[42.4,.09],[43.4,.08],[43.4,0],[44.4,0],[44.4,.09],[45.1,.08],[45.2,.53],[45.3,.08],[45.5,.08],[45.5,0],[46.6,0],[46.6,.09],[47.6,.08],[47.6,0],[48.8,0],[48.8,.09],[49.8,.08],[49.8,0],[51.0,0],[51.0,.09],[52.0,.08],[52.0,0],[53.2,0],[53.2,.09],[54.2,.08],[54.2,0],[55.4,0],[55.4,.09],[56.4,.08],[56.4,0],[57.6,0],[57.6,.09],[58.6,.08],[58.6,0],[59.8,0],[59.8,.09],[60.8,.08],[60.8,0],[61.8,0],[61.8,.09],[62.3,.08],[62.4,.67],[62.5,.08],[62.8,.08],[62.8,0],[64.0,0],[64.1,.14],[64.5,.12],[64.9,.1],[65.3,.08],[65.3,0],[66.2,0],[66.2,.09],[67.2,.08],[67.2,0],[68.4,0],[68.4,.1],[69.0,.09],[69.4,.08],[69.4,0],[70.6,0],[70.6,.09],[71.6,.08],[71.6,0],[72.8,0],[72.8,.09],[73.8,.08],[73.9,.62],[74.0,.08],[74.0,0],[75.0,0],[75.0,.09],[76.0,.08],[76.0,0],[77.2,0],[77.2,.09],[78.2,.08],[78.2,0],[79.4,0],[79.4,.09],[80.4,.08],[80.4,0],[81.6,0],[81.6,.09],[82.6,.08],[82.6,0],[83.4,0],[83.5,.12],[84.0,.09],[84.3,.08],[84.3,0],[86.4,0]];
const s32_pred = [[0,0],[2.3,0],[2.5,.15],[2.7,-.02],[2.9,.12],[3.1,.0],[3.3,.13],[3.5,-.04],[3.7,.1],[3.9,.02],[4.1,.12],[4.3,-.03],[4.5,.1],[4.7,.0],[4.9,.11],[5.1,-.05],[5.3,.12],[5.5,.02],[5.7,.1],[5.9,-.03],[6.1,.12],[6.3,.0],[6.5,.1],[6.7,-.04],[6.9,.11],[7.1,.02],[7.3,.13],[7.5,-.03],[7.7,.1],[7.9,.0],[8.1,.12],[8.3,-.05],[8.5,.1],[8.7,.02],[8.9,.12],[9.1,-.03],[9.3,.1],[9.5,.0],[9.7,.12],[9.9,-.04],[10.1,.1],[10.3,.01],[10.5,.13],[10.7,-.02],[10.9,.1],[11.1,.0],[11.3,.12],[11.5,-.03],[11.7,.1],[11.9,.02],[12.1,.11],[12.3,-.02],[12.5,.1],[12.8,.0],[13.1,.09],[13.4,.0],[13.7,.08],[14.0,.0],[14.4,.02],[14.5,.51],[14.6,.0],[14.9,.02],[16.0,-.01],[16.1,.1],[16.9,.07],[17.0,0],[18.2,-.01],[18.3,.1],[19.1,.07],[19.2,0],[20.4,-.01],[20.5,.1],[21.3,.07],[21.4,0],[22.6,-.01],[22.7,.1],[23.5,.07],[23.6,0],[24.8,-.01],[24.9,.1],[25.7,.07],[25.8,0],[27.0,-.01],[27.1,.1],[27.9,.07],[28.0,0],[29.2,-.01],[29.3,.1],[30.1,.07],[30.2,0],[31.4,-.01],[31.5,.1],[32.3,.07],[32.4,0],[33.6,-.01],[33.7,.1],[34.5,.07],[34.6,0],[35.8,-.01],[35.9,.1],[36.7,.07],[36.8,0],[38.0,-.01],[38.1,.1],[38.9,.07],[39.0,0],[40.2,-.01],[40.3,.12],[41.1,.09],[41.2,0],[42.4,-.01],[42.5,.1],[43.3,.07],[43.4,0],[44.6,-.01],[44.7,.1],[45.4,.05],[45.5,.38],[45.6,-.05],[45.8,0],[46.6,-.01],[46.7,.1],[47.5,.07],[47.6,0],[48.8,-.01],[48.9,.1],[49.7,.07],[49.8,0],[51.0,-.01],[51.1,.1],[51.9,.07],[52.0,0],[53.2,-.01],[53.3,.1],[54.1,.07],[54.2,0],[55.4,-.01],[55.5,.1],[56.3,.07],[56.4,0],[57.6,-.01],[57.7,.1],[58.5,.07],[58.6,0],[59.8,-.01],[59.9,.1],[60.7,.07],[60.8,0],[61.8,-.01],[61.9,.1],[62.4,.05],[62.5,.58],[62.6,-.03],[62.8,0],[64.0,-.01],[64.1,.11],[64.6,.08],[64.9,.1],[65.3,0],[66.2,-.01],[66.3,.1],[67.1,.07],[67.2,0],[68.4,-.01],[68.5,.1],[69.3,.07],[69.4,0],[70.6,-.02],[70.7,.1],[71.5,.07],[71.6,0],[72.8,-.02],[72.9,.1],[73.9,.06],[74.0,.56],[74.1,-.02],[74.3,0],[75.0,-.02],[75.1,.1],[75.9,.07],[76.0,0],[77.2,-.02],[77.3,.1],[78.1,.07],[78.2,0],[79.4,-.02],[79.5,.1],[80.3,.07],[80.4,0],[81.6,-.02],[81.7,.1],[82.5,.07],[82.6,0],[83.4,-.02],[83.5,.11],[84.0,.06],[84.3,.1],[84.6,0],[85.4,-.01],[85.5,.08],[86.4,.01]];

const s33_true = [[0,.06],[0.8,.06],[1.0,.55],[1.2,.06],[1.5,.06],[1.6,.48],[3,.48],[5,.485],[7,.49],[9,.485],[11,.49],[12.8,.5],[12.9,.43],[15,.43],[18.2,.43],[18.4,0],[22,0],[22.1,.6],[22.3,0],[44,0],[44.1,.01],[44.3,0],[47,0],[47.1,.01],[47.3,0],[64.8,0],[64.9,.015],[65.1,0],[70,0],[70.2,.08],[71,.06],[72.2,.06],[72.4,.55],[74,.555],[76,.56],[78,.555],[79.8,.55],[80.0,0],[80.2,.06],[85,.06],[85.2,.55],[86.4,.55]];
const s34_pred = [[0,.03],[0.3,.08],[0.6,.05],[0.9,.1],[1.2,.06],[1.5,.15],[1.8,.12],[2.0,.2],[2.2,.45],[2.4,.52],[2.7,.48],[3,.53],[3.3,.47],[3.6,.52],[3.9,.49],[4.2,.54],[4.5,.48],[4.8,.52],[5.1,.5],[5.4,.55],[5.7,.49],[6,.53],[6.3,.5],[6.6,.54],[6.9,.49],[7.2,.52],[7.5,.5],[7.8,.55],[8.1,.5],[8.4,.53],[8.7,.5],[9,.61],[9.2,.5],[9.5,.54],[9.8,.5],[10.1,.53],[10.4,.49],[10.7,.52],[11,.48],[11.3,.5],[11.6,.47],[11.9,.5],[12.2,.45],[12.5,.43],[12.8,.41],[13.1,.44],[13.4,.42],[13.7,.46],[14,.42],[14.3,.45],[14.6,.43],[15,.47],[15.3,.42],[15.6,.45],[16,.43],[16.4,.46],[16.8,.42],[17.2,.45],[17.6,.43],[18,.44],[18.3,.3],[18.5,.03],[18.8,.01],[19.1,.04],[19.4,-.01],[19.7,.03],[20,-.02],[20.5,.02],[21,-.01],[21.5,.01],[22,.02],[22.2,.61],[22.4,.0],[22.8,.02],[23.5,-.01],[24.5,.0],[26,-.01],[28,.0],[30,-.005],[32,.0],[34,-.005],[36,.0],[38,.005],[40,-.005],[41,.0],[42,.02],[42.5,.0],[44,.01],[46,-.005],[48,.005],[50,.0],[52,.005],[54,.0],[56,.005],[58,.0],[60,-.005],[62,.005],[64,.0],[66,-.005],[68,.005],[69,.0],[70,.02],[70.5,.05],[71,.02],[71.5,.1],[72,.06],[72.3,.58],[72.6,.55],[73,.61],[73.4,.54],[73.8,.58],[74.2,.55],[74.6,.59],[75,.54],[75.4,.58],[75.8,.55],[76.2,.58],[76.6,.53],[77,.57],[77.4,.55],[77.8,.58],[78.2,.54],[78.6,.57],[79,.55],[79.4,.6],[79.6,.2],[79.8,-.06],[80,.05],[80.3,.03],[80.6,.06],[80.9,.1],[81.2,.04],[81.5,.06],[82,.03],[82.5,.05],[83,.04],[83.5,.07],[84,.05],[84.3,.3],[84.6,.55],[84.9,.5],[85.2,.6],[85.5,.52],[86,.58],[86.4,.5]];
const s35_true = [[0,0],[2.5,0],[2.7,.97],[3,.98],[4,.975],[5,.98],[5.7,.975],[5.8,.4],[6,.42],[9.3,.42],[9.4,.92],[9.5,.5],[10.5,.5],[11,.49],[11.1,0],[38,0],[38.1,.01],[38.3,0],[41,0],[41.1,.015],[41.3,0],[66,0],[66.2,.01],[66.5,0],[68,0],[68.2,.01],[68.5,0],[78,0],[78.2,.5],[79.5,.5],[79.7,.55],[81.5,.57],[82,.55],[82.2,.02],[83,0],[86.4,.01]];
const s36_pred = [[0,.03],[1.5,.03],[2.0,.02],[2.3,-.12],[2.5,.6],[2.7,1.02],[3,.97],[3.3,1.07],[3.6,.99],[3.9,1.05],[4.2,.98],[4.5,1.06],[4.8,1.0],[5.1,1.04],[5.4,.98],[5.7,.7],[5.9,.42],[6.2,.48],[6.5,.4],[6.8,.47],[7.1,.41],[7.4,.46],[7.7,.4],[8,.45],[8.3,.42],[8.6,.47],[9.0,.45],[9.3,.93],[9.5,.5],[9.8,.55],[10.1,.48],[10.4,.58],[10.7,.45],[11,.3],[11.2,.02],[11.5,.1],[11.8,-.02],[12.1,.08],[12.4,.0],[12.8,.05],[13.2,.01],[13.6,.04],[14,.0],[15,.02],[16,.0],[18,.01],[20,.0],[25,.0],[30,.0],[35,.005],[37,.02],[38,.03],[39,.01],[40,.03],[41,.0],[42,.01],[45,.0],[50,.0],[55,.0],[60,.0],[62,.01],[64,.02],[65,.0],[66,.02],[67,.01],[68,.03],[69,.0],[70,.07],[70.3,.0],[71,.02],[73,.0],[76,.01],[77.5,.02],[77.8,.3],[78.1,.5],[78.4,.45],[78.7,.55],[79,.48],[79.3,.57],[79.6,.5],[80,.6],[80.3,.52],[80.6,.58],[80.9,.53],[81.2,.6],[81.5,.5],[81.8,.55],[82.1,.3],[82.3,.05],[82.6,.0],[83,.02],[84,.0],[85,.02],[86.4,.01]];

const s37_true = [[0,.43],[1.5,.435],[2.0,.425],[2.2,.41],[2.4,.43],[5,.435],[6,.44],[7,.435],[8,.43],[10,.435],[12,.435],[14,.435],[16,.435],[18,.435],[19.5,.435],[19.6,.41],[22,.41],[22.1,0],[40,0],[40.5,.005],[41,0],[44,0],[44.1,.03],[44.3,0],[47,0],[47.1,.03],[47.3,0],[65,0],[65.1,.03],[65.3,0],[71.5,0],[71.7,.03],[72.6,.03],[72.8,.3],[73.0,.45],[73.5,.44],[74.5,.44],[75.8,.43],[76,.12],[80,.12],[80.3,0],[85.2,0],[85.4,.27],[86.4,.27]];
const s38_pred = [[0,.33],[0.2,.5],[0.4,.42],[0.6,.53],[0.8,.45],[1,.48],[1.3,.43],[1.6,.47],[1.9,.44],[2.2,.48],[2.5,.43],[2.8,.47],[3.1,.44],[3.4,.48],[3.7,.43],[4,.46],[4.3,.44],[4.6,.48],[4.9,.43],[5.2,.47],[5.5,.44],[5.8,.47],[6.1,.44],[6.4,.48],[6.7,.43],[7,.46],[7.3,.44],[7.6,.47],[7.9,.43],[8.2,.46],[8.5,.44],[8.8,.49],[9.0,.52],[9.2,.44],[9.5,.47],[9.8,.43],[10.1,.46],[10.4,.43],[10.7,.47],[11,.42],[11.5,.45],[12,.42],[12.5,.46],[13,.42],[13.5,.45],[14,.42],[14.5,.44],[15,.41],[15.5,.44],[16,.42],[16.5,.45],[17,.41],[17.5,.44],[18,.43],[18.3,.52],[18.6,.42],[19,.45],[19.5,.41],[20,.44],[20.5,.4],[21,.43],[21.5,.38],[22.0,.44],[22.2,-.03],[22.4,.05],[22.6,-.02],[22.9,.03],[23.2,-.01],[23.6,.02],[24,-.005],[25,.01],[26,-.005],[28,.005],[30,-.005],[32,.005],[34,.0],[36,.005],[38,-.005],[40,.005],[42,.0],[44,.01],[45,-.01],[46,.02],[46.3,-.01],[47,.01],[48,-.005],[50,.005],[52,.0],[54,.005],[56,.0],[57,.015],[58,.0],[60,.005],[62,.0],[64,.005],[66,.0],[68,.01],[70,.0],[71,.02],[71.5,-.01],[72,.05],[72.3,.01],[72.6,.3],[72.9,.45],[73.2,.42],[73.5,.47],[73.8,.44],[74.1,.46],[74.4,.42],[74.7,.45],[75,.43],[75.3,.1],[75.6,.14],[76,.08],[76.4,.13],[76.8,.09],[77.2,.14],[77.6,.08],[78,.13],[78.4,.1],[78.8,.15],[79.2,.08],[79.6,.12],[80,.05],[80.4,.02],[80.8,.03],[81.2,.0],[81.6,.02],[82,.07],[82.2,-.01],[82.6,.02],[83,.0],[83.4,.02],[83.8,.0],[84.2,.03],[84.4,.33],[84.7,.25],[85,.31],[85.3,.24],[85.6,.3],[86,.26],[86.4,.28]];
const s39_true = [[0,.005],[2.5,.005],[2.7,.43],[4.5,.43],[4.7,.43],[4.8,.14],[5.0,.35],[5.2,.32],[5.5,.3],[5.8,.0],[7.2,.0],[7.3,.06],[7.5,0],[8.5,0],[8.7,.28],[9.2,.32],[9.4,.3],[9.6,.02],[10.1,.02],[10.3,.33],[10.6,.3],[10.8,.02],[12,.01],[13,.005],[36.5,.005],[36.8,.15],[37.5,.14],[38,.15],[40,.14],[40.8,.15],[41,.44],[41.5,.43],[42,.4],[42.3,.3],[42.8,.28],[43,.0],[64.5,.0],[64.8,.29],[67,.29],[70.5,.29],[70.8,.0],[79.5,.0],[79.7,.02],[80.5,.02],[80.7,.33],[80.9,.3],[81.1,.05],[81.4,.1],[81.6,.41],[81.8,.2],[82,.1],[82.3,.05],[82.6,.3],[82.8,.0],[86.4,.0]];
const s40_pred = [[0,.01],[1.5,.015],[2,.02],[2.3,-.04],[2.5,.52],[2.8,.45],[3.1,.5],[3.4,.43],[3.7,.49],[4.0,.44],[4.3,.48],[4.6,.42],[4.9,.45],[5.2,.35],[5.4,.3],[5.6,.0],[5.9,.06],[6.2,-.03],[6.5,.05],[6.8,.0],[7.1,.03],[7.4,-.01],[7.7,.02],[8.0,.25],[8.2,.35],[8.5,.3],[8.8,.04],[9.1,-.03],[9.4,.06],[9.7,.31],[9.9,.0],[10.2,.08],[10.5,-.02],[10.8,.06],[11.1,.0],[11.4,.04],[11.8,.0],[12.2,.02],[13,.0],[14,.01],[16,.0],[20,.0],[25,.0],[30,.0],[35,.005],[36.5,.01],[36.8,.15],[37.1,.18],[37.4,.14],[37.7,.17],[38,.13],[38.3,.16],[38.6,.14],[38.9,.17],[39.2,.14],[39.5,.17],[39.8,.13],[40.1,.16],[40.4,.14],[40.7,.44],[41,.45],[41.3,.38],[41.6,.4],[41.9,.3],[42.1,.0],[42.5,.02],[45,.0],[50,.01],[55,.0],[60,.0],[62,.01],[63,-.05],[63.3,.02],[64,.0],[64.5,.02],[64.8,.3],[65.1,.33],[65.4,.29],[65.7,.32],[66,.28],[66.3,.31],[66.6,.3],[67,.33],[67.4,.29],[67.8,.31],[68.2,.28],[68.6,.31],[69,.29],[69.4,.31],[69.8,.28],[70.2,.3],[70.6,.27],[70.9,.05],[71.2,.0],[72,.02],[73,.0],[74,.01],[75,-.04],[75.3,.01],[76,.0],[77,.02],[78,.0],[79,.04],[79.3,.02],[79.6,.2],[79.9,.05],[80.2,.3],[80.5,.0],[80.8,.2],[81.1,.37],[81.4,.1],[81.7,.3],[82,.05],[82.3,.25],[82.6,.01],[83,.0],[84,.01],[85,.0],[86.4,.01]];

// panels in reading order, 4 per row, 10 rows
const SERIES = [
  s01_true, s02_pred, s03_true, s04_pred,
  s05_true, s06_pred, s07_true, s08_pred,
  s09_true, s10_pred, s11_true, s12_pred,
  s13_true, s14_pred, s15_true, s16_pred,
  s17_true, s18_pred, s19_true, s20_pred,
  s21_true, s22_pred, s23_true, s24_pred,
  s25_true, s26_pred, s27_true, s28_pred,
  s29_true, s30_pred, s31_true, s32_pred,
  s33_true, s34_pred, s35_true, s36_pred,
  s37_true, s38_pred, s39_true, s40_pred
];
const SERIES_NAMES = ['true', 'pred', 'true', 'pred'];

const Y_LIMITS = [
  [0.0265, 0.219], [-0.109, 0.269], [0.012, 0.136], [-0.195, 0.345],
  [-0.0000225, 0.000473], [-0.068, 0.114], [-0.046, 0.966], [-0.26, 1.23],
  [-0.046, 0.97], [-0.093, 0.727], [-0.048, 1.0], [-0.22, 0.84],
  [-0.049, 1.018], [-0.13, 1.06], [-0.0275, 0.5775], [-0.093, 0.581],
  [-0.016, 0.333], [-0.091, 0.377], [-0.05, 1.03], [-0.089, 0.699],
  [0.0174, 0.1605], [-0.058, 0.253], [0.0065, 0.197], [-0.0235, 0.241],
  [-0.00008, 0.00184], [-0.103, 0.1085], [-0.045, 1.0], [-0.30, 1.187],
  [-0.045, 0.975], [-0.225, 0.98], [-0.03, 0.695], [-0.077, 0.6],
  [-0.028, 0.622], [-0.092, 0.638], [-0.048, 1.0], [-0.16, 1.12],
  [-0.022, 0.462], [-0.057, 0.554], [-0.022, 0.458], [-0.085, 0.546]
];
const Y_TICKS = [
  [0.05, 0.10, 0.15, 0.20], [-0.1, 0, 0.1, 0.2], [0.05, 0.10], [0, 0.2],
  [0, 0.0002, 0.0004], [-0.05, 0, 0.05, 0.10], [0, 0.5], [0, 0.5, 1.0],
  [0, 0.5], [0, 0.25, 0.5], [0, 0.5, 1.0], [0, 0.5],
  [0, 0.5, 1.0], [0, 0.5, 1.0], [0, 0.2, 0.4], [0, 0.2, 0.4],
  [0, 0.1, 0.2, 0.3], [0, 0.2], [0, 0.5, 1.0], [0, 0.25, 0.5],
  [0.05, 0.10, 0.15], [0, 0.1, 0.2], [0.05, 0.10, 0.15], [0, 0.1, 0.2],
  [0, 0.0005, 0.001, 0.0015], [-0.1, 0, 0.1], [0, 0.5, 1.0], [0, 0.5, 1.0],
  [0, 0.5], [0, 0.5, 1.0], [0, 0.2, 0.4, 0.6], [0, 0.2, 0.4, 0.6],
  [0, 0.2, 0.4, 0.6], [0, 0.2, 0.4, 0.6], [0, 0.5, 1.0], [0, 0.5, 1.0],
  [0, 0.2, 0.4], [0, 0.2, 0.4], [0, 0.2, 0.4], [0, 0.2, 0.4]
];
const Y_DECIMALS = [
  2, 1, 2, 1,  4, 2, 1, 1,  1, 2, 1, 1,  1, 1, 1, 1,  1, 1, 1, 2,
  2, 1, 2, 1,  4, 1, 1, 1,  1, 1, 1, 1,  1, 1, 1, 1,  1, 1, 1, 1
];

// ---- layout (pixels) ----
const COLS_TOP = [[43, 318], [374, 650], [694, 982], [1042, 1331]];
const COLS_BOTTOM = [[42, 319], [375, 652], [701, 988], [1047, 1333]];
const PANEL_H = 82;
const LEGEND_LOC = [
  'ur', 'ur', 'uc', 'ur',
  'ur', 'ur', 'ur', 'ur',
  'ur', 'ur', 'ur', 'ur',
  'ur', 'ur', 'uc', 'ur',
  'ur', 'ur', 'ur', 'ur',
  'ur', 'ur', 'ur', 'ur',
  'ur', 'ur', 'lc', 'uc',
  'ur', 'cr', 'ul', 'ul',
  'uc', 'uc', 'ur', 'ur',
  'll', 'll', 'c', 'ur'
];

const LINE_COLOR = '#E24A33';
const FONT = "'DejaVu Sans Condensed', 'Liberation Sans', sans-serif";

Chart.defaults.font.family = FONT;
Chart.defaults.font.size = 9;
Chart.defaults.color = '#555555';

const panelBg = {
  id: 'panelBg',
  beforeDraw(chart) {
    const { ctx, chartArea: a } = chart;
    ctx.save();
    ctx.fillStyle = '#E5E5E5';
    ctx.fillRect(a.left, a.top, a.right - a.left, a.bottom - a.top);
    ctx.restore();
  }
};

// matplotlib-like framed legend drawn inside the axes
const boxLegend = {
  id: 'boxLegend',
  afterDatasetsDraw(chart, args, opts) {
    const { ctx, chartArea: a } = chart;
    ctx.save();
    ctx.font = '9px ' + FONT;
    const tw = ctx.measureText(opts.text).width;
    const w = Math.round(4 + 18 + 5 + tw + 4), h = 16, m = 4;
    let x, y;
    const loc = opts.loc;
    if (loc[1] === 'r') x = a.right - m - w;
    else if (loc[1] === 'l') x = a.left + m;
    else x = (a.left + a.right - w) / 2;
    if (loc[0] === 'u') y = a.top + m;
    else if (loc[0] === 'l') y = a.bottom - m - h;
    else y = (a.top + a.bottom - h) / 2;
    if (loc === 'cr') { x = a.right - m - w; y = (a.top + a.bottom - h) / 2; }
    if (loc === 'c') { x = (a.left + a.right - w) / 2; y = (a.top + a.bottom - h) / 2; }
    x = Math.round(x) + 0.5; y = Math.round(y) + 0.5;
    ctx.beginPath();
    ctx.roundRect(x, y, w, h, 2.5);
    ctx.fillStyle = 'rgba(229,229,229,0.85)';
    ctx.fill();
    ctx.strokeStyle = '#cccccc';
    ctx.lineWidth = 1;
    ctx.stroke();
    ctx.beginPath();
    ctx.moveTo(x + 4, y + h / 2);
    ctx.lineTo(x + 22, y + h / 2);
    ctx.strokeStyle = LINE_COLOR;
    ctx.lineWidth = 1.5;
    ctx.stroke();
    ctx.fillStyle = '#262626';
    ctx.textBaseline = 'middle';
    ctx.fillText(opts.text, x + 27, y + h / 2 + 0.5);
    ctx.restore();
  }
};

const board = document.getElementById('board');
const YW = 45, XH = 20, PT = 8, PR = 8;

SERIES.forEach(function (series, i) {
  const row = Math.floor(i / 4), col = i % 4;
  const cols = row < 5 ? COLS_TOP : COLS_BOTTOM;
  const L = cols[col][0], R = cols[col][1];
  const T = Math.round(row < 5 ? 8 + 100.8 * row : 546 + 100.8 * (row - 5));
  const w = (R - L) + YW + PR, h = PANEL_H + PT + XH;

  const canvas = document.createElement('canvas');
  canvas.width = w;
  canvas.height = h;
  canvas.style.cssText = 'position:absolute;left:' + (L - YW) + 'px;top:' + (T - PT) + 'px;width:' + w + 'px;height:' + h + 'px';
  board.appendChild(canvas);

  const yTicks = Y_TICKS[i], dec = Y_DECIMALS[i];

  new Chart(canvas, {
    type: 'line',
    data: {
      datasets: [{
        label: SERIES_NAMES[col],
        data: series.map(p => ({ x: p[0] * X_SCALE, y: p[1] })),
        borderColor: LINE_COLOR,
        borderWidth: 1.5,
        pointRadius: 0,
        tension: 0,
        fill: false
      }]
    },
    options: {
      responsive: false,
      animation: false,
      events: [],
      layout: { padding: { top: PT, right: PR, left: 0, bottom: 0 } },
      plugins: {
        legend: { display: false },
        tooltip: { enabled: false },
        boxLegend: { text: SERIES_NAMES[col], loc: LEGEND_LOC[i] }
      },
      scales: {
        x: {
          type: 'linear',
          min: -4320,
          max: 90720,
          afterBuildTicks: s => { s.ticks = X_TICKS.map(v => ({ value: v })); },
          afterFit: s => { s.height = XH; },
          ticks: { autoSkip: false, maxRotation: 0, padding: 2, callback: v => String(v) },
          grid: { color: '#ffffff', lineWidth: 1, tickColor: '#555555', tickLength: 3 },
          border: { display: false }
        },
        y: {
          type: 'linear',
          min: Y_LIMITS[i][0],
          max: Y_LIMITS[i][1],
          afterBuildTicks: s => { s.ticks = yTicks.map(v => ({ value: v })); },
          afterFit: s => { s.width = YW; },
          ticks: { autoSkip: false, padding: 3, callback: v => v.toFixed(dec).replace('-', '\u2212') },
          grid: { color: '#ffffff', lineWidth: 1, tickColor: '#555555', tickLength: 3 },
          border: { display: false }
        }
      }
    },
    plugins: [panelBg, boxLegend]
  });
});
</script>
</body>
</html>
